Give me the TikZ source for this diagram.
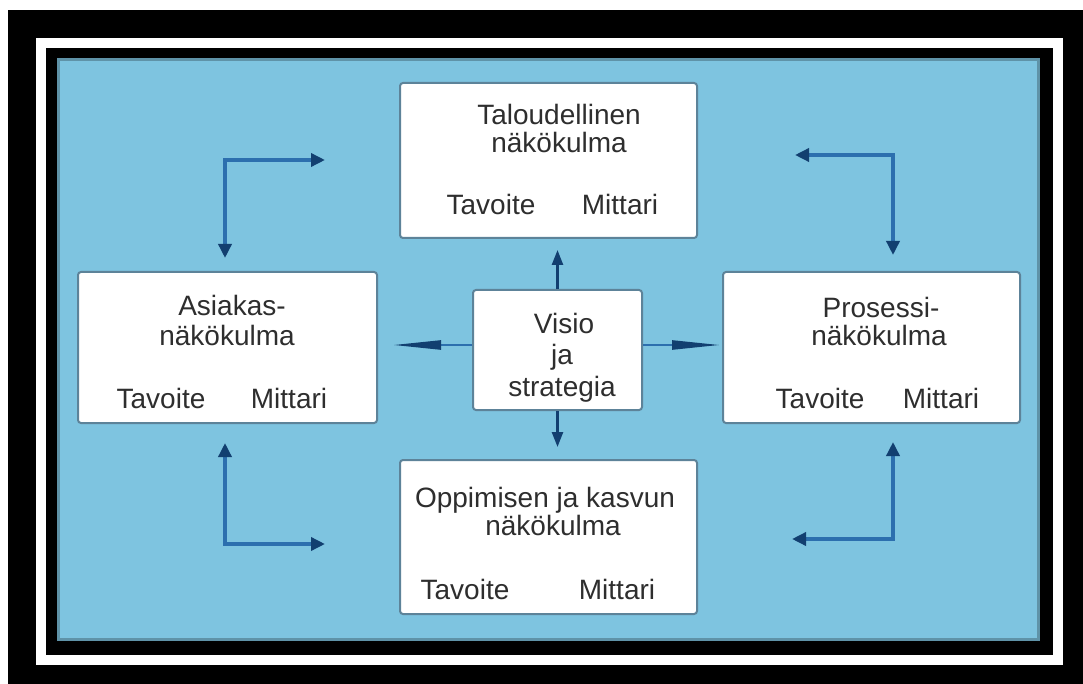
\documentclass[tikz,border=0pt]{standalone}
\usepackage{fontspec}
\setmainfont{Liberation Sans}
\usetikzlibrary{arrows.meta}
\definecolor{bgblue}{HTML}{7EC4E0}
\definecolor{linblue}{HTML}{2C6FAE}
\definecolor{headblue}{HTML}{123F70}
\definecolor{boxedge}{HTML}{5D8399}
\definecolor{txt}{HTML}{2E2E2E}
\tikzset{
  pbox/.style={draw=boxedge, line width=2pt, fill=white, rounded corners=3pt, inner sep=0pt},
  lbl/.style={anchor=base, text=txt, font=\fontsize{28}{32}\selectfont, inner sep=0pt},
  corner/.style={draw=linblue, line width=3.4pt, line join=miter, {Triangle[length=14pt,width=13pt,fill=headblue,color=headblue]}-{Triangle[length=14pt,width=13pt,fill=headblue,color=headblue]}},
  varr/.style={draw=headblue, line width=2.4pt, -{Triangle[length=15pt,width=11pt,fill=headblue,color=headblue]}},
  harr/.style={draw=linblue, line width=2.4pt, -{Triangle[length=48pt,width=9pt,fill=headblue,color=headblue]}}
}
\begin{document}
\begin{tikzpicture}[x=1pt,y=-1pt]
\useasboundingbox (0,0) rectangle (1083,684);
\fill[white] (0,0) rectangle (1083,684);
\fill[black] (8,10) rectangle (1083,684);
\fill[white] (36,38) rectangle (1063,665);
\fill[black] (46,48) rectangle (1053,655);
\fill[bgblue!75!black] (57,58) rectangle (1040,641);
\fill[bgblue] (60,61) rectangle (1037,638);

% boxes
\node[pbox, minimum width=297pt, minimum height=155pt] (top) at (548.5,160.5) {};
\node[pbox, minimum width=299pt, minimum height=151pt] (left) at (227.5,347.5) {};
\node[pbox, minimum width=297pt, minimum height=151pt] (right) at (871.5,347.5) {};
\node[pbox, minimum width=297pt, minimum height=154pt] (bottom) at (548.5,537) {};
\node[pbox, minimum width=169pt, minimum height=120pt] (center) at (557.5,350) {};

% texts
\node[lbl] (t1) at (559,125) {Taloudellinen};
\node[lbl] (t2) at (559,153) {näkökulma};
\node[lbl] (t3) at (491,215) {Tavoite};
\node[lbl] (t4) at (620,215) {Mittari};

\node[lbl] (l1) at (232,316) {Asiakas-};
\node[lbl] (l2) at (227,345) {näkökulma};
\node[lbl] (l3) at (161,408) {Tavoite};
\node[lbl] (l4) at (289,408) {Mittari};

\node[lbl] (r1) at (881,317) {Prosessi-};
\node[lbl] (r2) at (879,345) {näkökulma};
\node[lbl] (r3) at (820,408) {Tavoite};
\node[lbl] (r4) at (941,408) {Mittari};

\node[lbl] (b1) at (545,507) {Oppimisen ja kasvun};
\node[lbl] (b2) at (553,535) {näkökulma};
\node[lbl] (b3) at (465,599) {Tavoite};
\node[lbl] (b4) at (617,599) {Mittari};

\node[lbl] (c1) at (564,333) {Visio};
\node[lbl] (c2) at (562,364) {ja};
\node[lbl] (c3) at (562,396) {strategia};

% arrows from center
\coordinate (tu) at (557.5,250);
\coordinate (td) at (557.5,447);
\coordinate (tl) at (393,345);
\coordinate (tr) at (720,345);
\draw[varr] (center.north) -- (tu);
\draw[varr] (center.south) -- (td);
\draw[harr] (center.west |- tl) -- (tl);
\draw[harr] (center.east |- tr) -- (tr);

% corner arrows
\coordinate (c1a) at (225,160); \coordinate (c1h) at (325,160); \coordinate (c1v) at (225,258);
\coordinate (c2a) at (893,155); \coordinate (c2h) at (795,155); \coordinate (c2v) at (893,255);
\coordinate (c3a) at (225,544); \coordinate (c3h) at (325,544); \coordinate (c3v) at (225,443);
\coordinate (c4a) at (893,539); \coordinate (c4h) at (792,539); \coordinate (c4v) at (893,442);
\draw[corner] (c1h) -- (c1a) -- (c1v);
\draw[corner] (c2h) -- (c2a) -- (c2v);
\draw[corner] (c3h) -- (c3a) -- (c3v);
\draw[corner] (c4h) -- (c4a) -- (c4v);
\end{tikzpicture}
\end{document}
